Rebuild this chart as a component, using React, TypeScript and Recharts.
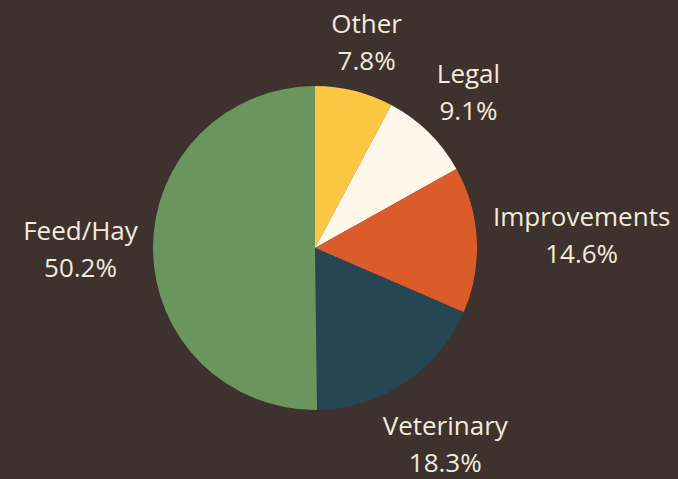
import React from "react";
import { Cell, Pie, PieChart } from "recharts";

// expense share, clockwise from 12 o'clock
const categories = ["Other", "Legal", "Improvements", "Veterinary", "Feed/Hay"];
const shares = [7.8, 9.1, 14.6, 18.3, 50.2];
const colors = ["#fcc844", "#fdf6e9", "#dc5b2a", "#264653", "#6a955c"];

const BG = "#3e322e";
const TEXT = "#f3ebdc";
const FONT = "'Open Sans', sans-serif";
const FONT_SIZE = 26;
const LINE_GAP = 37;
const CAP = 19;

const data = categories.map((name, i) => ({ name, value: shares[i] }));

let ctx: CanvasRenderingContext2D | null = null;
function textWidth(s: string) {
  if (!ctx) ctx = document.createElement("canvas").getContext("2d");
  if (!ctx) return s.length * FONT_SIZE * 0.55;
  ctx.font = `${FONT_SIZE}px ${FONT}`;
  return ctx.measureText(s).width;
}

// outside label: box centre sits on the mid ray, pushed out so the box clears R + 15
function renderLabel(props: any) {
  const { cx, cy, midAngle, outerRadius, name, value } = props;
  const pct = `${Number(value).toFixed(1)}%`;
  const rad = (midAngle * Math.PI) / 180;
  const c = Math.cos(rad);
  const s = Math.sin(rad);
  const w = Math.max(textWidth(name), textWidth(pct));
  const h = CAP + LINE_GAP;
  const d = outerRadius + 15 + (Math.abs(c) * w) / 2 + (Math.abs(s) * h) / 2;
  const bx = cx + d * c;
  const by = cy - d * s;
  const base1 = by - h / 2 + CAP;
  return (
    <g>
      <text x={bx} y={base1} textAnchor="middle" fill={TEXT} fontSize={FONT_SIZE} fontFamily={FONT}>
        {name}
      </text>
      <text x={bx} y={base1 + LINE_GAP} textAnchor="middle" fill={TEXT} fontSize={FONT_SIZE} fontFamily={FONT}>
        {pct}
      </text>
    </g>
  );
}

export default function App() {
  return (
    <div style={{ width: 678, height: 479, background: BG }}>
      <style>{`body{margin:0;background:${BG};}`}</style>
      <PieChart width={678} height={479} margin={{ top: 0, right: 0, bottom: 0, left: 0 }}>
        <Pie
          data={data}
          dataKey="value"
          nameKey="name"
          cx={315}
          cy={248}
          outerRadius={162}
          startAngle={90}
          endAngle={-270}
          stroke="none"
          label={renderLabel}
          labelLine={false}
          isAnimationActive={false}
        >
          {data.map((d, i) => (
            <Cell key={d.name} fill={colors[i]} />
          ))}
        </Pie>
      </PieChart>
    </div>
  );
}
